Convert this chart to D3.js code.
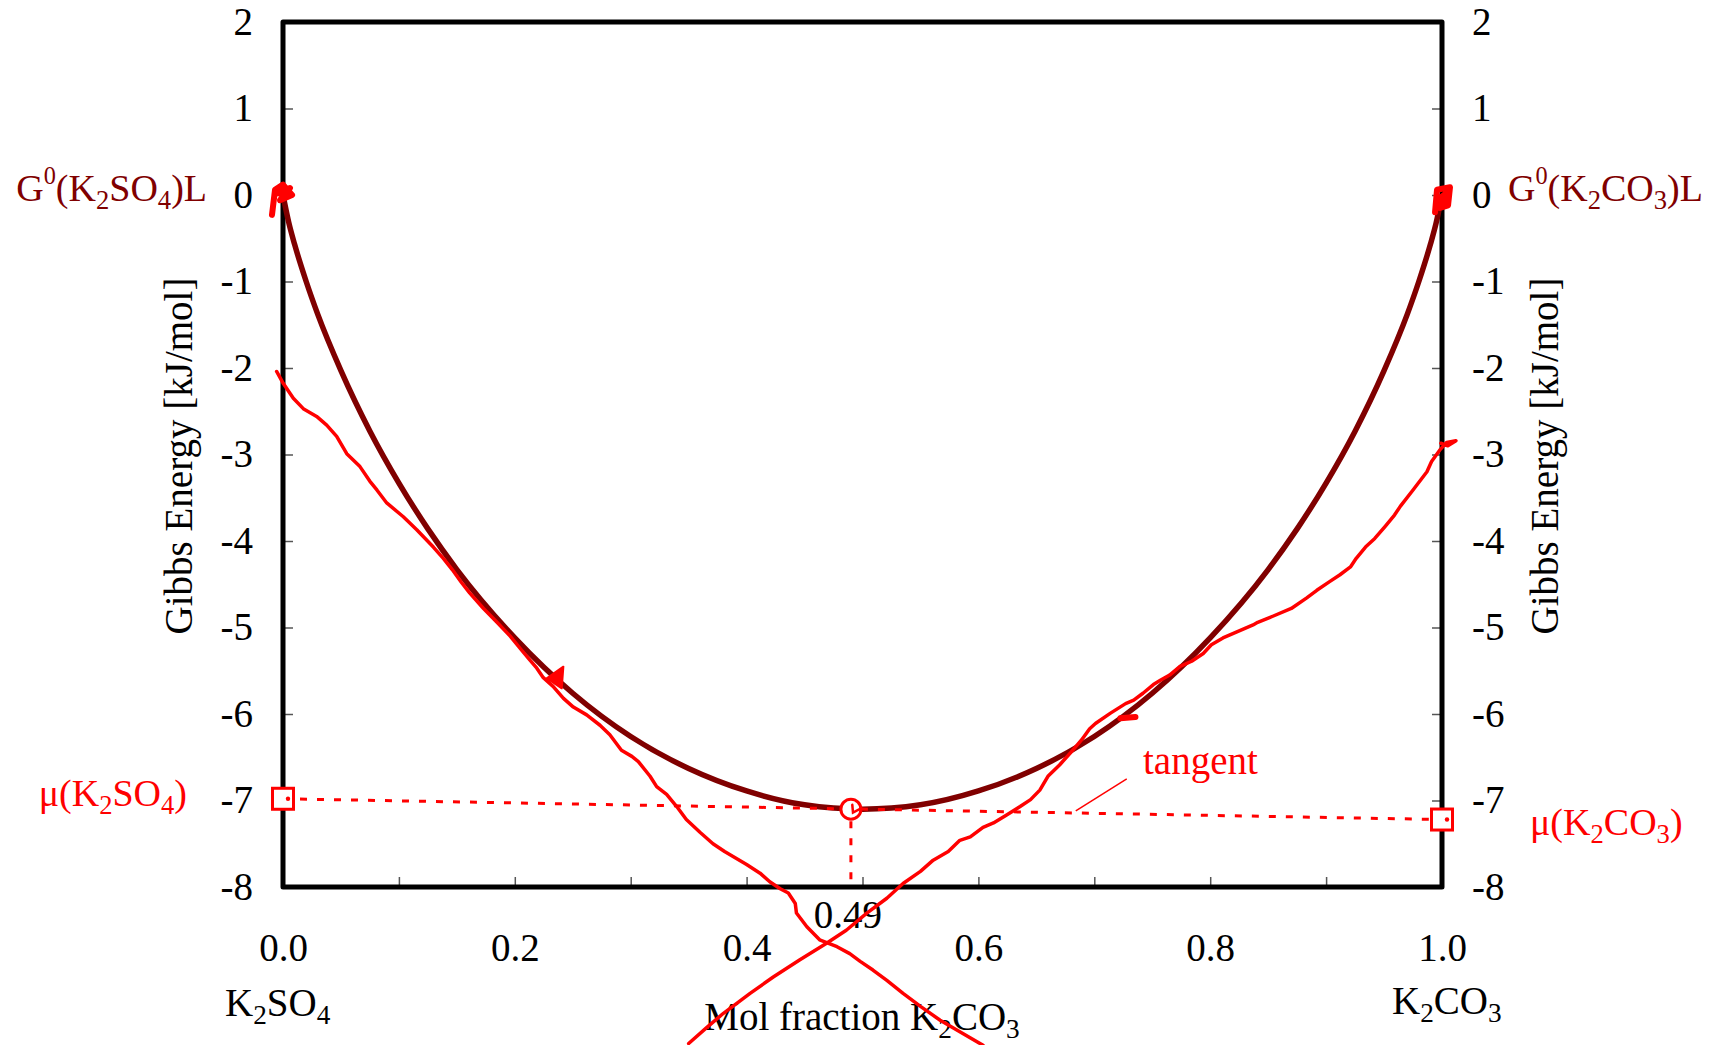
<!DOCTYPE html>
<html>
<head>
<meta charset="utf-8">
<script src="https://cdn.jsdelivr.net/npm/d3@7"></script>
<style>
  html, body { margin: 0; padding: 0; background: #fff; }
  svg { display: block; }
</style>
</head>
<body>
<svg id="chart" width="1716" height="1045"></svg>
<script>
// Gibbs energy of the K2SO4–K2CO3 liquid (kJ/mol) against mole fraction of K2CO3
const curveX = [0, 0.005, 0.01, 0.02, 0.03, 0.05, 0.075, 0.1, 0.125, 0.15, 0.2, 0.25, 0.3, 0.35, 0.4, 0.45, 0.5,
                0.55, 0.6, 0.65, 0.7, 0.75, 0.8, 0.85, 0.875, 0.9, 0.925, 0.95, 0.97, 0.98, 0.99, 0.995, 1];
const curveG = [0, -0.32, -0.57, -1.00, -1.38, -2.03, -2.73, -3.33, -3.86, -4.33, -5.12, -5.76, -6.26, -6.63, -6.89, -7.05, -7.10,
                -7.05, -6.89, -6.63, -6.26, -5.76, -5.12, -4.33, -3.86, -3.33, -2.73, -2.03, -1.38, -1.00, -0.57, -0.32, 0];

// axis ticks
const yTicks = [-8, -7, -6, -5, -4, -3, -2, -1, 0, 1, 2];
const xTicks = [0, 0.1, 0.2, 0.3, 0.4, 0.5, 0.6, 0.7, 0.8, 0.9, 1.0];
const xTickLabels = ["0.0", "", "0.2", "", "0.4", "", "0.6", "", "0.8", "", "1.0"];

// tangent construction at x = 0.49
const tangentX = 0.49;
const tangentG = -7.10;
const muSO4 = -6.98;   // intercept at x = 0
const muCO3 = -7.22;   // intercept at x = 1

// hand-drawn tangent sketches [x, G]
const leftSketch = [
  [-0.0055,-2.04],[0.0003,-2.18],[0.0089,-2.35],[0.0175,-2.47],[0.029,-2.56],[0.0377,-2.66],[0.0463,-2.79],
  [0.055,-2.99],[0.0664,-3.14],[0.075,-3.31],[0.081,-3.41],[0.0895,-3.56],[0.1038,-3.72],[0.1154,-3.87],
  [0.1297,-4.07],[0.1383,-4.20],[0.146,-4.33],[0.154,-4.48],[0.161,-4.60],[0.173,-4.78],[0.184,-4.93],
  [0.196,-5.10],[0.2045,-5.24],[0.212,-5.36],[0.219,-5.47],[0.2246,-5.58],[0.233,-5.68],[0.242,-5.82],
  [0.2505,-5.92],[0.262,-6.01],[0.2735,-6.13],[0.282,-6.24],[0.292,-6.42],[0.301,-6.49],[0.3066,-6.55],
  [0.3167,-6.72],[0.3224,-6.84],[0.331,-6.93],[0.3397,-7.07],[0.348,-7.22],[0.36,-7.37],[0.371,-7.50],
  [0.381,-7.59],[0.400,-7.74],[0.4116,-7.84],[0.420,-7.94],[0.429,-8.02],[0.436,-8.07],[0.442,-8.19],
  [0.443,-8.30],[0.452,-8.46],[0.463,-8.61],[0.478,-8.69],[0.489,-8.77],[0.498,-8.86],[0.509,-8.96],
  [0.521,-9.08],[0.535,-9.23],[0.550,-9.38],[0.567,-9.54],[0.581,-9.65],[0.604,-9.83]
];
const rightSketch = [
  [0.999,-2.87],[1.005,-2.90],[1.012,-2.84],[1.004,-2.86],[0.998,-2.95],[0.991,-3.08],[0.987,-3.20],
  [0.975,-3.41],[0.964,-3.60],[0.959,-3.70],[0.951,-3.83],[0.942,-3.97],[0.934,-4.07],[0.926,-4.20],
  [0.921,-4.30],[0.912,-4.39],[0.903,-4.47],[0.892,-4.57],[0.883,-4.66],[0.870,-4.78],[0.854,-4.87],
  [0.841,-4.94],[0.837,-4.97],[0.823,-5.05],[0.811,-5.12],[0.801,-5.20],[0.794,-5.30],[0.784,-5.39],
  [0.774,-5.45],[0.765,-5.55],[0.757,-5.61],[0.751,-5.66],[0.742,-5.76],[0.734,-5.84],[0.727,-5.88],
  [0.714,-5.99],[0.701,-6.11],[0.696,-6.17],[0.689,-6.30],[0.680,-6.44],[0.670,-6.59],[0.660,-6.72],
  [0.653,-6.88],[0.645,-6.99],[0.636,-7.07],[0.624,-7.17],[0.613,-7.26],[0.604,-7.31],[0.593,-7.42],
  [0.584,-7.46],[0.574,-7.59],[0.561,-7.69],[0.550,-7.82],[0.535,-7.96],[0.521,-8.13],[0.504,-8.30],
  [0.486,-8.50],[0.469,-8.65],[0.446,-8.84],[0.423,-9.04],[0.403,-9.23],[0.380,-9.46],[0.366,-9.62],
  [0.350,-9.81]
];
// small pen marks
const scribbleSO4 = [[-0.0095,-0.23],[-0.0069,0.06],[0,0.12],[0.0078,0.0],[-0.0026,-0.06],[0.006,0.08],[-0.004,0.02]];
const scribbleCO3 = [[0.994,-0.20],[0.9957,0.06],[1.0069,0.09],[1.0052,-0.12],[0.9983,-0.15],[1.0035,0.02],[0.997,-0.05]];
const markLeft = [[0.2275,-5.587],[0.2419,-5.453],[0.2405,-5.703]];
const markRight = [[0.7225,-6.05],[0.7355,-6.035]];
const markCircle = [[0.4912,-7.05],[0.4918,-7.14],[0.4975,-7.10]];
const leader = [[0.728,-6.75],[0.684,-7.12]];

const FONT = '"Liberation Serif", "Times New Roman", Times, serif';
const DARK = "#800000";
const RED = "#ff0000";
const FS = 39;

const svg = d3.select("#chart");
svg.append("rect").attr("width", 1716).attr("height", 1045).attr("fill", "#fff");

const x = d3.scaleLinear().domain([0, 1]).range([283, 1442]);
const y = d3.scaleLinear().domain([-8, 2]).range([887, 22]);

function styleAxis(g) {
  g.select(".domain").remove();
  g.selectAll(".tick line").attr("stroke", "#555").attr("stroke-width", 1.5);
  g.selectAll(".tick text").attr("fill", "#000").attr("font-size", FS).attr("font-family", FONT);
}

// axes with inward ticks
svg.append("g").attr("transform", `translate(${x(0)},0)`)
  .call(d3.axisLeft(y).tickValues(yTicks).tickSizeInner(-10).tickSizeOuter(0).tickPadding(30).tickFormat(d => String(d)))
  .call(styleAxis);
svg.append("g").attr("transform", `translate(${x(1)},0)`)
  .call(d3.axisRight(y).tickValues(yTicks).tickSizeInner(-10).tickSizeOuter(0).tickPadding(30).tickFormat(d => String(d)))
  .call(styleAxis);
svg.append("g").attr("transform", `translate(0,${y(-8)})`)
  .call(d3.axisBottom(x).tickValues(xTicks).tickSizeInner(-10).tickSizeOuter(0).tickPadding(46).tickFormat((d, i) => xTickLabels[i]))
  .call(styleAxis);

// frame
svg.append("rect")
  .attr("x", x(0)).attr("y", y(2))
  .attr("width", x(1) - x(0)).attr("height", y(-8) - y(2))
  .attr("fill", "none").attr("stroke", "#000").attr("stroke-width", 5).attr("stroke-linejoin", "round");

// text with sub/superscripts
function rich(sel, parts, base) {
  let shift = 0;
  parts.forEach(([s, k]) => {
    const target = k === "sub" ? 8 : k === "sup" ? -17 : 0;
    const fs = k === "sub" ? base * 0.7 : k === "sup" ? base * 0.64 : base;
    sel.append("tspan").attr("dy", target - shift).attr("font-size", fs).text(s);
    shift = target;
  });
  return sel;
}
function label(px, py, anchor, color, parts, base = FS) {
  const t = svg.append("text").attr("x", px).attr("y", py)
    .attr("text-anchor", anchor).attr("fill", color)
    .attr("font-family", FONT).attr("font-size", base);
  return rich(t, parts, base);
}

// axis titles
svg.append("text").attr("transform", "translate(192,456) rotate(-90)")
  .attr("text-anchor", "middle").attr("font-family", FONT).attr("font-size", FS)
  .text("Gibbs Energy [kJ/mol]");
svg.append("text").attr("transform", "translate(1558,456) rotate(-90)")
  .attr("text-anchor", "middle").attr("font-family", FONT).attr("font-size", FS)
  .text("Gibbs Energy [kJ/mol]");
label(862, 1030, "middle", "#000", [["Mol fraction K"], ["2", "sub"], ["CO"], ["3", "sub"]]);
label(225, 1016, "start", "#000", [["K"], ["2", "sub"], ["SO"], ["4", "sub"]]);
label(1392, 1014, "start", "#000", [["K"], ["2", "sub"], ["CO"], ["3", "sub"]]);
label(x(tangentX) - 3, 928, "middle", "#000", [[String(tangentX)]]);

// pure-component reference labels
label(207, 201, "end", DARK, [["G"], ["0", "sup"], ["(K"], ["2", "sub"], ["SO"], ["4", "sub"], [")L"]], 38);
label(1508, 201, "start", DARK, [["G"], ["0", "sup"], ["(K"], ["2", "sub"], ["CO"], ["3", "sub"], [")L"]], 38);
label(187, 806, "end", RED, [["μ(K"], ["2", "sub"], ["SO"], ["4", "sub"], [")"]], 38);
label(1530, 835, "start", RED, [["μ(K"], ["2", "sub"], ["CO"], ["3", "sub"], [")"]], 38);
label(1143, 774, "start", RED, [["tangent"]]);

const line = d3.line().x(d => x(d[0])).y(d => y(d[1]));

// Gibbs energy curve
svg.append("path")
  .datum(curveX.map((v, i) => [v, curveG[i]]))
  .attr("d", line.curve(d3.curveMonotoneX))
  .attr("fill", "none").attr("stroke", DARK).attr("stroke-width", 5.5);
line.curve(d3.curveLinear);

// common tangent and its foot
svg.append("path").datum([[0, muSO4], [1, muCO3]]).attr("d", line)
  .attr("fill", "none").attr("stroke", RED).attr("stroke-width", 3).attr("stroke-dasharray", "7,10");
svg.append("path").datum([[tangentX, tangentG], [tangentX, -8]]).attr("d", line)
  .attr("fill", "none").attr("stroke", RED).attr("stroke-width", 3).attr("stroke-dasharray", "7,10")
  .attr("stroke-dashoffset", -12);

// hand-drawn slope sketches
[leftSketch, rightSketch].forEach(pts => {
  svg.append("path").datum(pts).attr("d", line)
    .attr("fill", "none").attr("stroke", RED).attr("stroke-width", 3.5)
    .attr("stroke-linejoin", "round").attr("stroke-linecap", "round");
});
[scribbleSO4, scribbleCO3].forEach(pts => {
  svg.append("path").datum(pts).attr("d", line)
    .attr("fill", "none").attr("stroke", RED).attr("stroke-width", 6)
    .attr("stroke-linejoin", "round").attr("stroke-linecap", "round");
});
svg.append("path").datum(markLeft).attr("d", d => line(d) + "Z")
  .attr("fill", RED).attr("stroke", RED).attr("stroke-width", 2).attr("stroke-linejoin", "round");
svg.append("path").datum(markRight).attr("d", line)
  .attr("fill", "none").attr("stroke", RED).attr("stroke-width", 6).attr("stroke-linecap", "round");
svg.append("path").datum(leader).attr("d", line)
  .attr("fill", "none").attr("stroke", RED).attr("stroke-width", 1.5);

// markers
[[0, muSO4], [1, muCO3]].forEach(p => {
  svg.append("rect")
    .attr("x", x(p[0]) - 10.5).attr("y", y(p[1]) - 10.5).attr("width", 21).attr("height", 21)
    .attr("fill", "#fff").attr("stroke", RED).attr("stroke-width", 3);
  svg.append("circle").attr("cx", x(p[0]) + 5).attr("cy", y(p[1])).attr("r", 2.2).attr("fill", RED);
});
svg.append("circle").attr("cx", x(tangentX)).attr("cy", y(tangentG)).attr("r", 10)
  .attr("fill", "#fff").attr("stroke", RED).attr("stroke-width", 3);
svg.append("path").datum(markCircle).attr("d", line)
  .attr("fill", "none").attr("stroke", RED).attr("stroke-width", 2.5).attr("stroke-linecap", "round");
</script>
</body>
</html>
